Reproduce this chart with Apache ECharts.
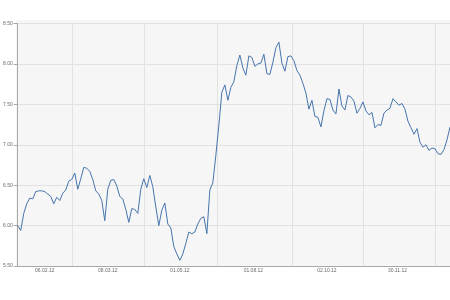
<!DOCTYPE html>
<html>
<head>
<meta charset="utf-8">
<script src="https://cdn.jsdelivr.net/npm/echarts@6/dist/echarts.min.js"></script>
<style>
  html, body { margin: 0; padding: 0; background: #fff; }
  #chart { width: 450px; height: 300px; }
</style>
</head>
<body>
<div id="chart"></div>
<script>
// price series, one value per trading step
const prices = [
  6.00, 5.94, 6.15, 6.27, 6.34, 6.33, 6.42, 6.43, 6.43, 6.42,
  6.39, 6.36, 6.27, 6.35, 6.31, 6.40, 6.44, 6.55, 6.57, 6.65,
  6.45, 6.58, 6.72, 6.71, 6.67, 6.57, 6.43, 6.39, 6.31, 6.06,
  6.45, 6.56, 6.57, 6.49, 6.36, 6.33, 6.20, 6.04, 6.21, 6.20,
  6.15, 6.45, 6.58, 6.47, 6.62, 6.48, 6.23, 6.00, 6.19, 6.28,
  6.02, 5.97, 5.74, 5.65, 5.57, 5.65, 5.78, 5.92, 5.90, 5.92,
  6.02, 6.09, 6.11, 5.90, 6.44, 6.53, 6.87, 7.24, 7.65, 7.74,
  7.55, 7.71, 7.78, 7.98, 8.11, 7.95, 7.86, 8.10, 8.08, 7.97,
  8.00, 8.01, 8.12, 7.88, 7.87, 8.02, 8.20, 8.27, 8.01, 7.91,
  8.09, 8.10, 8.04, 7.92, 7.86, 7.76, 7.64, 7.44, 7.55, 7.35,
  7.34, 7.22, 7.42, 7.57, 7.56, 7.43, 7.38, 7.69, 7.48, 7.43,
  7.61, 7.59, 7.54, 7.39, 7.45, 7.53, 7.42, 7.37, 7.40, 7.21,
  7.25, 7.24, 7.39, 7.43, 7.45, 7.57, 7.53, 7.49, 7.51, 7.44,
  7.29, 7.21, 7.13, 7.20, 7.03, 6.97, 7.00, 6.93, 6.96, 6.95,
  6.89, 6.88, 6.94, 7.06, 7.22
];

// date labels and where they sit along the steps
const dateLabels = ['06.02.12', '08.03.12', '01.05.12', '01.08.12', '02.10.12', '30.11.12'];
const labelSteps = [9, 30, 54, 78.5, 103, 126.5];
// vertical grid line positions (steps)
const gridSteps = [18, 42, 66.5, 91.5, 115, 139];

const yMin = 5.5, yMax = 8.5, yStep = 0.5;

const chart = echarts.init(document.getElementById('chart'), null, { renderer: 'canvas' });

const option = {
  animation: false,
  backgroundColor: '#fff',
  graphic: [{
    type: 'rect',
    z: -10,
    silent: true,
    shape: { x: 16, y: 20, width: 434, height: 246 },
    style: { fill: '#f6f6f6' }
  }],
  grid: { left: 16, right: 0, top: 23.5, bottom: 34 },
  xAxis: {
    type: 'value',
    min: 0,
    max: prices.length - 1,
    axisLine: { show: true, lineStyle: { color: '#a8a8a8', width: 1 } },
    axisTick: { show: false, customValues: gridSteps },
    splitLine: { show: true, lineStyle: { color: '#e2e2e2', width: 1 } },
    axisLabel: {
      customValues: labelSteps,
      formatter: v => dateLabels[labelSteps.indexOf(v)] || '',
      fontSize: 5,
      color: '#6a6a6a',
      fontFamily: 'Liberation Sans, Arial, sans-serif',
      margin: 2
    }
  },
  yAxis: {
    type: 'value',
    min: yMin,
    max: yMax,
    interval: yStep,
    axisLine: { show: true, lineStyle: { color: '#a8a8a8', width: 1 } },
    axisTick: { show: true, length: 4, lineStyle: { color: '#a8a8a8' } },
    splitLine: { show: true, lineStyle: { color: '#e2e2e2', width: 1 } },
    axisLabel: {
      formatter: v => v.toFixed(2),
      fontSize: 5,
      color: '#6a6a6a',
      fontFamily: 'Liberation Sans, Arial, sans-serif',
      margin: 5
    }
  },
  series: [{
    type: 'line',
    data: prices.map((p, i) => [i, p]),
    showSymbol: false,
    lineStyle: { color: '#4674ad', width: 1 },
    itemStyle: { color: '#4674ad' }
  }]
};

chart.setOption(option);
</script>
</body>
</html>
